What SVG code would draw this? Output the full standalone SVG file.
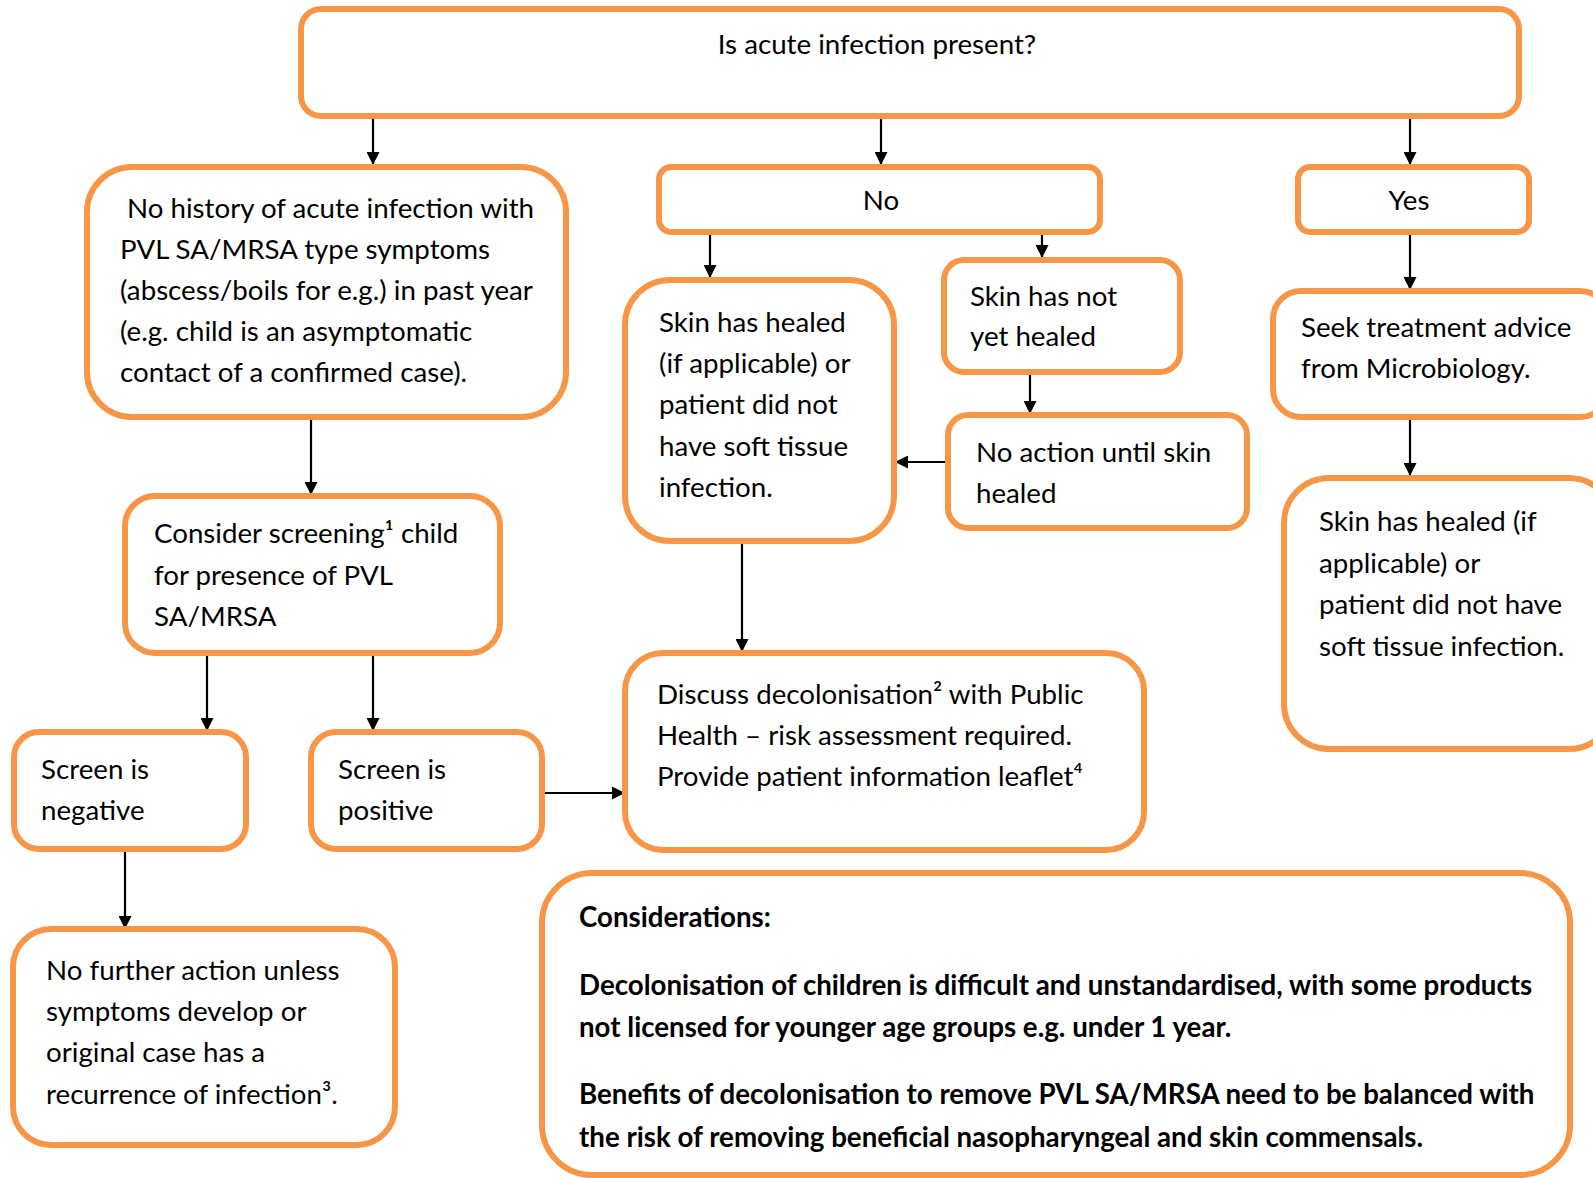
<svg xmlns="http://www.w3.org/2000/svg" width="1593" height="1178" viewBox="0 0 1593 1178">
<defs>
<marker id="ah" markerWidth="13" markerHeight="13" refX="12" refY="6.5" orient="auto" markerUnits="userSpaceOnUse">
<path d="M0,0 L13,6.5 L0,13 Z" fill="#000"/>
</marker>
<style>
.box{fill:#fff;stroke:#F79646;stroke-width:6}
.t{font-family:Lato,"Liberation Sans",sans-serif;font-size:27.7px;fill:#000}
.b{font-family:Lato,"Liberation Sans",sans-serif;font-size:27.7px;font-weight:bold;fill:#000}
.c{stroke:#000;stroke-width:2.2;fill:none;marker-end:url(#ah)}
</style>
</defs>
<rect width="1593" height="1178" fill="#fff"/>
<g id="connectors">
<line class="c" x1="373" y1="117" x2="373" y2="164"/>
<line class="c" x1="881" y1="117" x2="881" y2="164"/>
<line class="c" x1="1410" y1="117" x2="1410" y2="164"/>
<line class="c" x1="710" y1="234" x2="710" y2="277"/>
<line class="c" x1="1042" y1="232" x2="1042" y2="257"/>
<line class="c" x1="1030" y1="372" x2="1030" y2="413"/>
<line class="c" x1="946" y1="462" x2="896" y2="462"/>
<line class="c" x1="742" y1="541" x2="742" y2="651"/>
<line class="c" x1="1410" y1="232" x2="1410" y2="289"/>
<line class="c" x1="1410" y1="419" x2="1410" y2="475"/>
<line class="c" x1="311" y1="419" x2="311" y2="494"/>
<line class="c" x1="207" y1="653" x2="207" y2="730"/>
<line class="c" x1="373" y1="653" x2="373" y2="730"/>
<line class="c" x1="542" y1="793" x2="624" y2="793"/>
<line class="c" x1="125" y1="849" x2="125" y2="928"/>
</g>
<g id="n-top"><rect class="box" x="301" y="9" width="1218" height="107" rx="20"/>
<text class="t" x="877" y="54" text-anchor="middle">Is acute infection present?</text></g>
<g id="n-nohistory"><rect class="box" x="87" y="167" width="479" height="250" rx="45"/>
<text class="t"><tspan x="127" y="218">No history of acute infection with</tspan><tspan x="120" y="259">PVL SA/MRSA type symptoms</tspan><tspan x="120" y="300">(abscess/boils for e.g.) in past year</tspan><tspan x="120" y="341">(e.g. child is an asymptomatic</tspan><tspan x="120" y="382">contact of a confirmed case).</tspan></text></g>
<g id="n-no"><rect class="box" x="659" y="167" width="441" height="65" rx="12"/>
<text class="t" x="881" y="210" text-anchor="middle">No</text></g>
<g id="n-yes"><rect class="box" x="1298" y="167" width="231" height="65" rx="12"/>
<text class="t" x="1409" y="210" text-anchor="middle">Yes</text></g>
<g id="n-healed"><rect class="box" x="625" y="280" width="269" height="261" rx="45"/>
<text class="t"><tspan x="659" y="332">Skin has healed</tspan><tspan x="659" y="373">(if applicable) or</tspan><tspan x="659" y="414">patient did not</tspan><tspan x="659" y="456">have soft tissue</tspan><tspan x="659" y="497">infection.</tspan></text></g>
<g id="n-notyet"><rect class="box" x="944" y="260" width="236" height="112" rx="20"/>
<text class="t"><tspan x="970" y="306">Skin has not</tspan><tspan x="970" y="346">yet healed</tspan></text></g>
<g id="n-noaction"><rect class="box" x="948" y="415" width="299" height="113" rx="20"/>
<text class="t"><tspan x="976" y="462">No action until skin</tspan><tspan x="976" y="503">healed</tspan></text></g>
<g id="n-seek"><rect class="box" x="1273" y="291" width="335" height="126" rx="28"/>
<text class="t"><tspan x="1301" y="337">Seek treatment advice</tspan><tspan x="1301" y="378">from Microbiology.</tspan></text></g>
<g id="n-healed2"><rect class="box" x="1284" y="478" width="330" height="271" rx="45"/>
<text class="t"><tspan x="1319" y="531">Skin has healed (if</tspan><tspan x="1319" y="573">applicable) or</tspan><tspan x="1319" y="614">patient did not have</tspan><tspan x="1319" y="656">soft tissue infection.</tspan></text></g>
<g id="n-consider"><rect class="box" x="125" y="496" width="375" height="157" rx="30"/>
<text class="t"><tspan x="154" y="543">Consider screening¹ child</tspan><tspan x="154" y="585">for presence of PVL</tspan><tspan x="154" y="626">SA/MRSA</tspan></text></g>
<g id="n-neg"><rect class="box" x="14" y="732" width="232" height="117" rx="25"/>
<text class="t"><tspan x="41" y="779">Screen is</tspan><tspan x="41" y="820">negative</tspan></text></g>
<g id="n-pos"><rect class="box" x="311" y="732" width="231" height="117" rx="25"/>
<text class="t"><tspan x="338" y="779">Screen is</tspan><tspan x="338" y="820">positive</tspan></text></g>
<g id="n-nofurther"><rect class="box" x="13" y="929" width="382" height="216" rx="38"/>
<text class="t"><tspan x="46" y="980">No further action unless</tspan><tspan x="46" y="1021">symptoms develop or</tspan><tspan x="46" y="1062">original case has a</tspan><tspan x="46" y="1104">recurrence of infection³.</tspan></text></g>
<g id="n-discuss"><rect class="box" x="625" y="653" width="519" height="197" rx="38"/>
<text class="t"><tspan x="657" y="704">Discuss decolonisation² with Public</tspan><tspan x="657" y="745">Health – risk assessment required.</tspan><tspan x="657" y="786">Provide patient information leaflet⁴</tspan></text></g>
<g id="n-considerations"><rect class="box" x="542" y="873" width="1028" height="302" rx="50"/>
<text class="b"><tspan x="579" y="927">Considerations:</tspan><tspan x="579" y="995">Decolonisation of children is difficult and unstandardised, with some products</tspan><tspan x="579" y="1037">not licensed for younger age groups e.g. under 1 year.</tspan><tspan x="579" y="1104">Benefits of decolonisation to remove PVL SA/MRSA need to be balanced with</tspan><tspan x="579" y="1147">the risk of removing beneficial nasopharyngeal and skin commensals.</tspan></text></g>
</svg>
